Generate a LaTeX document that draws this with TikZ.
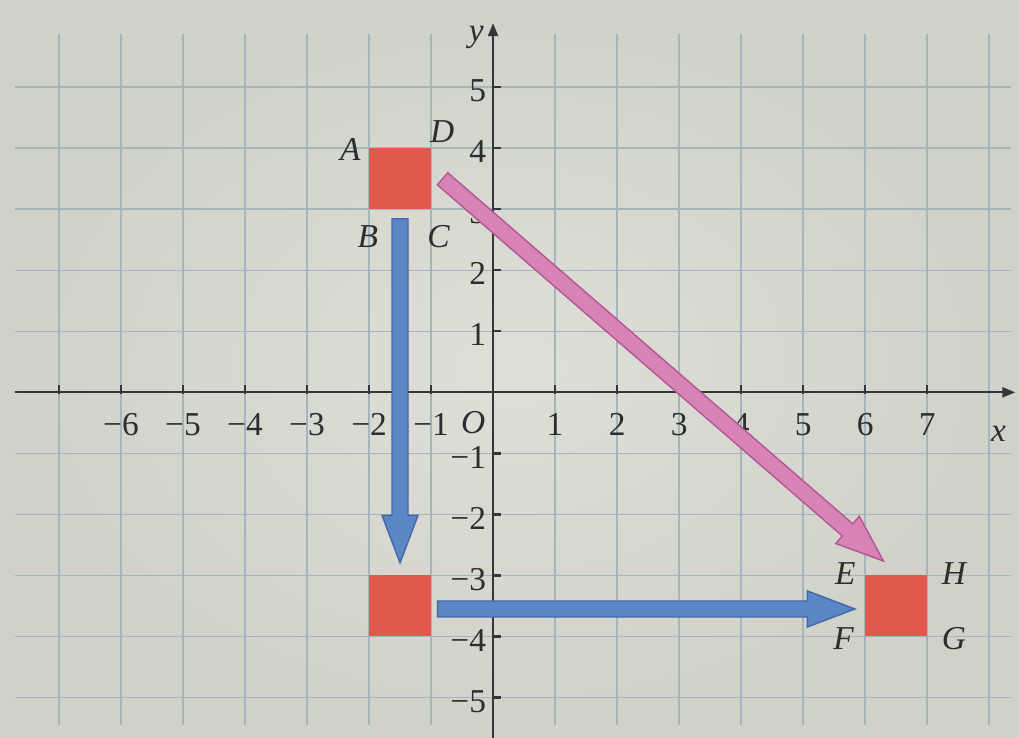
\documentclass[tikz,border=0pt]{standalone}
\usepackage{fontspec}
\setmainfont{Liberation Serif}
\usetikzlibrary{calc,arrows.meta}
\definecolor{paper}{RGB}{208,209,200}
\definecolor{paperlight}{RGB}{222,223,215}
\definecolor{gridc}{RGB}{166,180,189}
\definecolor{axisc}{RGB}{52,55,58}
\definecolor{txtc}{RGB}{45,45,45}
\definecolor{sqred}{RGB}{223,90,76}
\definecolor{bluef}{RGB}{92,135,198}
\definecolor{blued}{RGB}{66,104,168}
\definecolor{pinkf}{RGB}{216,130,182}
\definecolor{pinkd}{RGB}{178,86,148}
% fat arrow: #1 start, #2 tip, #3 name of head base, #4 style
\newcommand\fatarr[4]{%
  \coordinate (#3) at ($(#2)!0.95cm!(#1)$);
  \draw[#4] ($(#1)!0.16cm!90:(#2)$) -- ($(#3)!0.16cm!90:(#2)$)
    -- ($(#3)!0.36cm!90:(#2)$) -- (#2) -- ($(#3)!0.36cm!-90:(#2)$)
    -- ($(#3)!0.16cm!-90:(#2)$) -- ($(#1)!0.16cm!-90:(#2)$) -- cycle;}
\begin{document}
\begin{tikzpicture}[x=1.24cm,y=1.22cm,
  font=\fontsize{19}{21}\selectfont, text=txtc,
  gridline/.style={gridc, line width=0.9pt},
  axisline/.style={axisc, line width=1.3pt},
  sq/.style={fill=sqred, draw=none, minimum width=1.24cm, minimum height=1.22cm, inner sep=0pt},
  bluearr/.style={fill=bluef, draw=blued, line width=0.8pt, line join=miter},
  pinkarr/.style={fill=pinkf, draw=pinkd, line width=0.8pt, line join=miter},
  num/.style={inner sep=1pt},
  lab/.style={inner sep=1pt, font=\fontsize{19}{21}\selectfont\itshape}]
% paper
\shade[inner color=paperlight, outer color=paper] (-7.95,-5.66) rectangle (8.48,6.43);
\useasboundingbox (-7.95,-5.66) rectangle (8.48,6.43);
% grid
\foreach \i in {-7,...,-1,1,2,...,8} \draw[gridline] (\i,-5.45) -- (\i,5.88);
\foreach \j in {-5,...,-1,1,2,...,5} \draw[gridline] (-7.7,\j) -- (8.35,\j);
% axes
\coordinate (xs) at (-7.7,0);
\coordinate (xe) at (8.42,0);
\coordinate (ys) at (0,-5.66);
\coordinate (ye) at (0,6.05);
\draw[axisline, -{Triangle[length=0.26cm,width=0.2cm]}] (xs) -- (xe);
\draw[axisline, -{Triangle[length=0.26cm,width=0.2cm]}] (ys) -- (ye);
\foreach \i in {-7,...,7} \draw[axisline] (\i,-0.03) -- (\i,0.12);
\foreach \j in {-5,...,5} \draw[axisline] (0,\j) -- (0.13,\j);
% axis numbers
\foreach \i in {1,...,6} \node[num] (xn\i) at (-\i,-0.53) {−\i};
\foreach \i in {1,...,7} \node[num] (xl\i) at (\i,-0.53) {\i};
\foreach \j in {1,...,5} \node[num, anchor=east] (yl\j) at (-0.08,\j-0.05) {\j};
\foreach \j in {1,...,5} \node[num, anchor=east] (ym\j) at (-0.08,-\j-0.07) {−\j};
\node[lab] (o) at (-0.32,-0.5) {O};
\node[lab] (xlab) at (8.15,-0.68) {x};
\node[lab] (ylab) at (-0.27,5.82) {y};
% squares
\node[sq] (abcd) at (-1.5,3.5) {};
\node[sq] (mid) at (-1.5,-3.5) {};
\node[sq] (efgh) at (6.5,-3.5) {};
% vertex labels
\node[lab] (la) at (-2.3,3.98) {A};
\node[lab] (lb) at (-2.02,2.55) {B};
\node[lab] (lc) at (-0.88,2.55) {C};
\node[lab] (ld) at (-0.82,4.27) {D};
\node[lab] (le) at (5.68,-2.97) {E};
\node[lab] (lf) at (5.65,-4.03) {F};
\node[lab] (lg) at (7.43,-4.03) {G};
\node[lab] (lh) at (7.43,-2.97) {H};
% arrows
\coordinate (b1s) at ($(abcd.south)+(0,-0.15)$);
\coordinate (b1e) at ($(mid.north)+(0,0.2)$);
\coordinate (b2s) at ($(mid.east)+(0.1,-0.05)$);
\coordinate (b2e) at ($(efgh.west)+(-0.16,-0.05)$);
\coordinate (ps) at ($(abcd.east)+(0.18,0)$);
\coordinate (pe) at ($(efgh.north west)+(0.3,0.23)$);
\fatarr{b1s}{b1e}{b1h}{bluearr}
\fatarr{b2s}{b2e}{b2h}{bluearr}
\fatarr{ps}{pe}{ph}{pinkarr}
\end{tikzpicture}
\end{document}
